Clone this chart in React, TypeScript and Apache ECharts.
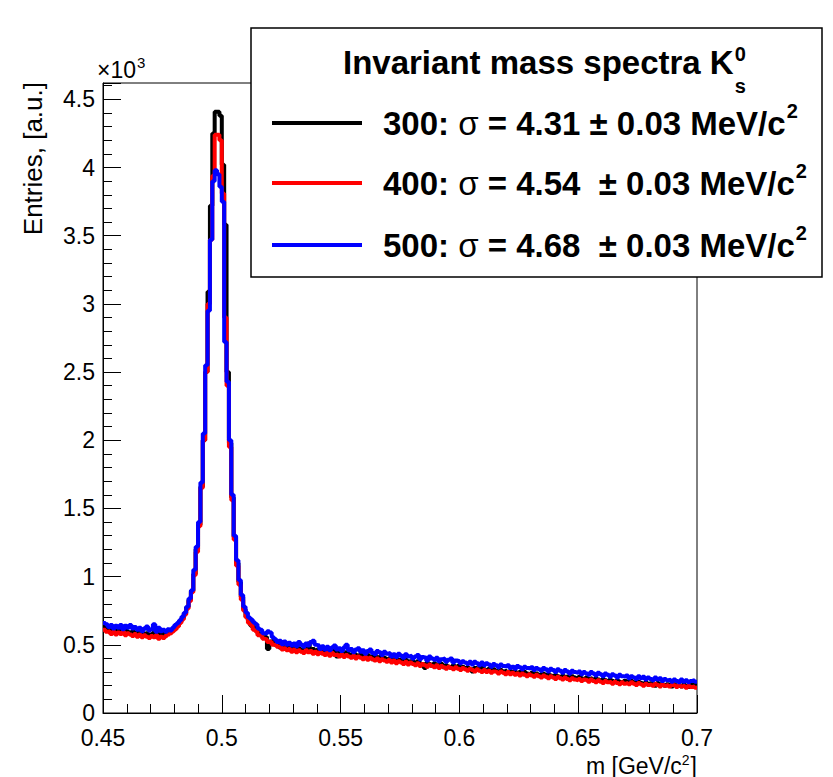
import React, { useEffect, useRef } from "react";
import * as echarts from "echarts";

// ---- histogram binning (GeV/c^2) ----
const BIN_LOW = 0.45;
const BIN_WIDTH = 0.001;

// ---- axis ranges ----
const X_MIN = 0.45;
const X_MAX = 0.7;
const X_STEP = 0.05;
const Y_MIN = 0;
const Y_MAX = 4620;
const Y_MAJOR = 500;
const Y_MINOR = 100;

// ---- series values (entries per 1 MeV bin) ----
const h300 = [
  635, 615, 620, 600, 615, 595, 615, 600, 590, 610,
  595, 585, 600, 580, 595, 580, 590, 570, 585, 575,
  570, 590, 600, 575, 570, 585, 580, 600, 605, 615,
  630, 645, 670, 695, 730, 775, 830, 895, 1020, 1200,
  1380, 1660, 2000, 2500, 3090, 3720, 4250, 4410, 4410, 4380,
  4020, 3580, 2500, 1980, 1580, 1290, 1100, 960, 850, 760,
  705, 675, 640, 630, 605, 585, 570, 555, 560, 470,
  525, 530, 500, 505, 480, 490, 470, 485, 465, 475,
  480, 460, 475, 455, 470, 480, 510, 455, 470, 450,
  465, 440, 460, 445, 435, 455, 440, 460, 415, 445,
  440, 425, 445, 430, 420, 440, 425, 410, 430, 420,
  405, 425, 415, 395, 420, 400, 410, 395, 405, 390,
  400, 385, 395, 375, 390, 385, 370, 390, 365, 380,
  375, 360, 380, 365, 355, 330, 370, 360, 345, 365,
  355, 345, 360, 335, 350, 340, 330, 350, 335, 345,
  330, 340, 325, 335, 320, 305, 330, 325, 315, 330,
  320, 310, 325, 305, 320, 310, 300, 315, 305, 310,
  300, 310, 295, 305, 290, 300, 285, 300, 290, 280,
  295, 280, 290, 275, 285, 290, 270, 285, 275, 265,
  280, 270, 260, 275, 265, 270, 255, 270, 260, 250,
  265, 255, 245, 260, 250, 255, 240, 255, 245, 235,
  250, 240, 230, 245, 235, 225, 240, 230, 220, 235,
  230, 220, 235, 225, 215, 230, 220, 210, 225, 215,
  220, 210, 200, 220, 210, 215, 200, 210, 205, 195,
  210, 200, 205, 195, 210, 200, 190, 205, 200, 215,
];

const h400 = [
  610, 595, 600, 580, 595, 575, 590, 580, 595, 570,
  585, 575, 565, 580, 560, 575, 555, 570, 560, 550,
  565, 555, 570, 545, 560, 550, 565, 575, 585, 600,
  615, 635, 660, 685, 720, 765, 820, 885, 1010, 1180,
  1370, 1650, 2000, 2500, 3000, 3470, 3940, 4240, 4240, 4200,
  3810, 2900, 2400, 1950, 1560, 1270, 1080, 940, 830, 750,
  700, 660, 645, 610, 600, 570, 565, 545, 540, 520,
  525, 500, 505, 485, 490, 465, 475, 460, 470, 450,
  465, 445, 460, 450, 440, 460, 445, 455, 435, 450,
  430, 450, 435, 425, 445, 420, 440, 425, 430, 415,
  430, 410, 425, 415, 405, 420, 400, 415, 405, 395,
  410, 390, 405, 395, 385, 400, 380, 395, 385, 375,
  390, 370, 385, 365, 380, 370, 360, 375, 355, 370,
  360, 350, 365, 345, 360, 350, 340, 355, 345, 335,
  350, 330, 345, 335, 325, 340, 330, 320, 335, 325,
  315, 330, 320, 310, 325, 315, 305, 320, 310, 300,
  315, 300, 310, 295, 305, 300, 290, 305, 295, 285,
  300, 285, 295, 280, 290, 275, 290, 280, 270, 285,
  275, 265, 280, 270, 260, 275, 265, 255, 270, 260,
  250, 265, 255, 245, 260, 250, 240, 255, 245, 240,
  250, 235, 245, 240, 230, 245, 235, 225, 240, 230,
  220, 235, 225, 230, 215, 230, 220, 210, 225, 215,
  220, 210, 225, 215, 205, 220, 210, 200, 215, 205,
  210, 200, 215, 205, 195, 210, 200, 205, 195, 205,
  200, 190, 205, 195, 200, 185, 200, 190, 195, 185,
];

const h500 = [
  660, 650, 630, 645, 620, 640, 625, 645, 615, 640,
  625, 645, 620, 630, 610, 625, 600, 620, 635, 605,
  615, 650, 595, 625, 600, 610, 595, 615, 605, 625,
  645, 660, 680, 705, 735, 780, 840, 900, 1050, 1220,
  1400, 1690, 2050, 2550, 2950, 3470, 3900, 3980, 3950, 3860,
  3750, 2720, 2430, 2000, 1600, 1300, 1120, 975, 865, 780,
  735, 700, 685, 665, 650, 620, 610, 585, 580, 600,
  590, 555, 540, 520, 530, 505, 525, 500, 515, 495,
  510, 490, 520, 500, 485, 510, 495, 520, 530, 500,
  495, 470, 490, 465, 485, 460, 480, 495, 465, 475,
  455, 480, 500, 460, 470, 445, 465, 475, 450, 460,
  435, 455, 465, 440, 430, 455, 445, 425, 450, 435,
  440, 415, 430, 410, 435, 420, 405, 430, 415, 420,
  400, 415, 425, 395, 410, 405, 385, 415, 400, 390,
  405, 380, 395, 400, 375, 390, 400, 370, 385, 380,
  365, 380, 370, 360, 375, 355, 375, 365, 350, 370,
  350, 365, 355, 340, 360, 350, 335, 355, 345, 340,
  350, 330, 340, 325, 345, 335, 320, 340, 330, 325,
  335, 315, 330, 320, 310, 330, 320, 305, 325, 315,
  300, 320, 310, 295, 315, 305, 290, 310, 300, 295,
  305, 285, 300, 290, 280, 300, 290, 275, 295, 285,
  270, 290, 280, 265, 285, 275, 260, 280, 270, 265,
  275, 255, 270, 260, 250, 270, 255, 265, 245, 260,
  250, 240, 260, 245, 255, 235, 250, 240, 245, 230,
  245, 235, 225, 245, 230, 240, 225, 235, 240, 230,
];

// ---- legend content ----
const LEGEND_TITLE = "Invariant mass spectra K";
const LEGEND_NAMES = ["300", "400", "500"];
const LEGEND_SIGMA = ["4.31", "4.54", "4.68"];
const LEGEND_ERR = ["0.03", "0.03", "0.03"];
const SERIES_COLORS = ["#000000", "#ff0000", "#0000ff"];
const SERIES_DATA = [h300, h400, h500];

const FF = '"Liberation Sans", Arial, Helvetica, sans-serif';

function toSteps(values: number[]) {
  const pts: number[][] = values.map((v, i) => [
    +(BIN_LOW + i * BIN_WIDTH).toFixed(4),
    v,
  ]);
  pts.push([+(BIN_LOW + values.length * BIN_WIDTH).toFixed(4), values[values.length - 1]]);
  return pts;
}

export default function App() {
  const ref = useRef<HTMLDivElement>(null);

  useEffect(() => {
    document.body.style.margin = "0";
    if (!ref.current) return;
    const chart = echarts.init(ref.current, undefined, { renderer: "svg" });

    const cv = document.createElement("canvas");
    const ctx = cv.getContext("2d")!;
    const tw = (t: string, f: string) => {
      ctx.font = f;
      return ctx.measureText(t).width;
    };

    const txt = (
      text: string,
      x: number,
      y: number,
      font: string,
      align: string = "left",
      va: string = "middle",
      rotation = 0
    ) => ({
      type: "text",
      x,
      y,
      rotation,
      silent: true,
      z: 110,
      style: {
        text,
        x: 0,
        y: 0,
        font,
        fill: "#000",
        align,
        verticalAlign: va,
        textAlign: align,
        textVerticalAlign: va,
      },
    });

    const graphics: any[] = [];

    // legend box
    graphics.push({
      type: "rect",
      z: 100,
      silent: true,
      shape: { x: 251, y: 28, width: 571, height: 249 },
      style: { fill: "#ffffff", stroke: "#000000", lineWidth: 1.5 },
    });

    // legend title with K_s^0
    const bold = `bold 33px ${FF}`;
    const titleX = 343;
    const titleY = 62;
    graphics.push(txt(LEGEND_TITLE, titleX, titleY, bold));
    const kEnd = titleX + tw(LEGEND_TITLE, bold);
    graphics.push(txt("0", kEnd + 1, 54, `bold 20px ${FF}`));
    graphics.push(txt("s", kEnd + 1, 86, `bold 20px ${FF}`));

    // legend entries
    const rowY = [123, 183, 245];
    const entryFont = bold;
    const sigFont = `33px ${FF}`;
    const supFont = `bold 20px ${FF}`;
    LEGEND_NAMES.forEach((name, i) => {
      const y = rowY[i];
      graphics.push({
        type: "line",
        z: 110,
        silent: true,
        shape: { x1: 272, y1: y, x2: 362, y2: y },
        style: { stroke: SERIES_COLORS[i], lineWidth: 4 },
      });
      let x = 383;
      const p1 = `${name}: `;
      graphics.push(txt(p1, x, y, entryFont));
      x += tw(p1, entryFont);
      graphics.push(txt("σ", x, y, sigFont));
      x += tw("σ", sigFont);
      const p3 = ` = ${LEGEND_SIGMA[i]}${i > 0 ? "  " : " "}± ${LEGEND_ERR[i]} MeV/c`;
      graphics.push(txt(p3, x, y, entryFont));
      x += tw(p3, entryFont);
      graphics.push(txt("2", x + 1, y - 12, supFont));
    });

    // y axis title
    graphics.push(txt("Entries, [a.u.]", 33, 82, `26px ${FF}`, "right", "middle", Math.PI / 2));

    // y axis multiplier x10^3
    const mulFont = `23px ${FF}`;
    graphics.push(txt("×10", 97, 70, mulFont));
    graphics.push(txt("3", 97 + tw("×10", mulFont) + 1, 62, `15px ${FF}`));

    // x axis title  m [GeV/c^2]
    const xtFont = `23px ${FF}`;
    const xtSup = `14px ${FF}`;
    const a = "m [GeV/c";
    const b = "2";
    const c = "]";
    const total = tw(a, xtFont) + tw(b, xtSup) + 1 + tw(c, xtFont);
    let sx = 697 - total;
    const xtY = 765.5;
    graphics.push(txt(a, sx, xtY, xtFont));
    sx += tw(a, xtFont);
    graphics.push(txt(b, sx, 760, xtSup));
    sx += tw(b, xtSup) + 1;
    graphics.push(txt(c, sx, xtY, xtFont));

    const axisLine = { show: true, onZero: false, lineStyle: { color: "#000", width: 1 } };

    chart.setOption({
      animation: false,
      grid: {
        left: 103,
        top: 83,
        width: 594,
        height: 630,
        show: true,
        borderColor: "#000",
        borderWidth: 1,
        backgroundColor: "transparent",
      },
      xAxis: {
        type: "value",
        min: X_MIN,
        max: X_MAX,
        interval: X_STEP,
        axisLine,
        axisTick: { show: true, inside: true, length: 18, lineStyle: { color: "#000", width: 1 } },
        minorTick: { show: true, splitNumber: 5, length: 9, lineStyle: { color: "#000", width: 1 } },
        splitLine: { show: false },
        minorSplitLine: { show: false },
        axisLabel: {
          color: "#000",
          fontSize: 23,
          fontFamily: FF,
          margin: 13,
          formatter: (v: number) => String(Math.round(v * 100) / 100),
        },
      },
      yAxis: [
        {
          type: "value",
          min: Y_MIN,
          max: Y_MAX,
          interval: Y_MINOR,
          position: "left",
          axisLine,
          axisTick: { show: true, inside: true, length: 9, lineStyle: { color: "#000", width: 1 } },
          splitLine: { show: false },
          axisLabel: {
            color: "#000",
            fontSize: 23,
            fontFamily: FF,
            margin: 8,
            formatter: (v: number) =>
              Math.abs(v % Y_MAJOR) < 1e-6 ? String(Math.round(v / 100) / 10) : "",
          },
        },
        {
          type: "value",
          min: Y_MIN,
          max: Y_MAX,
          interval: Y_MAJOR,
          position: "left",
          axisLine: { show: false },
          axisTick: { show: true, inside: true, length: 18, lineStyle: { color: "#000", width: 1 } },
          splitLine: { show: false },
          axisLabel: { show: false },
        },
      ],
      series: SERIES_DATA.map((d, i) => ({
        type: "line",
        name: LEGEND_NAMES[i],
        step: "end",
        data: toSteps(d),
        symbol: "none",
        showSymbol: false,
        yAxisIndex: 0,
        z: 2 + i,
        clip: true,
        lineStyle: { color: SERIES_COLORS[i], width: 4 },
      })),
      graphic: graphics,
    });

    return () => chart.dispose();
  }, []);

  return <div ref={ref} style={{ width: 833, height: 777 }} />;
}
